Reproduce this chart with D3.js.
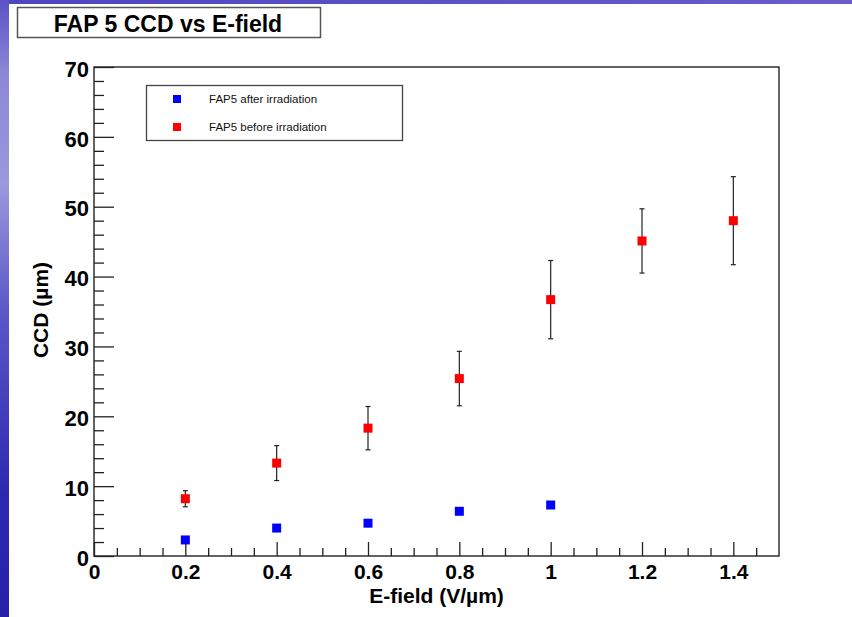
<!DOCTYPE html>
<html>
<head>
<meta charset="utf-8">
<script src="https://cdn.jsdelivr.net/npm/d3@7"></script>
<style>
  html, body { margin: 0; padding: 0; background: #fff; }
  svg { display: block; font-family: "Liberation Sans", Arial, Helvetica, sans-serif; }
</style>
</head>
<body>
<svg id="chart" width="852" height="617"></svg>
<script>
// E-field values (V/µm)
const fieldAfter  = [0.2, 0.4, 0.6, 0.8, 1.0];
const fieldBefore = [0.2, 0.4, 0.6, 0.8, 1.0, 1.2, 1.4];
// Charge collection distance (µm)
const ccdAfter  = [2.3, 4.0, 4.7, 6.4, 7.3];
const ccdBefore = [8.2, 13.3, 18.3, 25.4, 36.7, 45.1, 48.0];
const ccdBeforeErr = [1.15, 2.5, 3.1, 3.9, 5.6, 4.6, 6.3];

const xTicks = [0, 0.2, 0.4, 0.6, 0.8, 1, 1.2, 1.4];
const yTicks = [0, 10, 20, 30, 40, 50, 60, 70];
const seriesNames = ["FAP5 after irradiation", "FAP5 before irradiation"];
const seriesColors = ["#0000ff", "#ff0000"];

const svg = d3.select("#chart");
const W = 852, H = 617;
const frame = { left: 94, right: 779, top: 67, bottom: 556 };

// slide background: blue bars along the top and left edges
const defs = svg.append("defs");
const grad = defs.append("linearGradient").attr("id", "sideGrad")
  .attr("x1", 0).attr("y1", 0).attr("x2", 0).attr("y2", 1);
[[0, "#5a52c6"], [0.12, "#8c88d8"], [0.3, "#9a98de"], [0.5, "#5c58c8"], [0.8, "#2e28b0"], [1, "#2820a8"]]
  .forEach(([o, c]) => grad.append("stop").attr("offset", o).attr("stop-color", c));
const gradTop = defs.append("linearGradient").attr("id", "topGrad")
  .attr("x1", 0).attr("y1", 0).attr("x2", 1).attr("y2", 0);
[[0, "#4c46c0"], [1, "#6a5ccd"]]
  .forEach(([o, c]) => gradTop.append("stop").attr("offset", o).attr("stop-color", c));
svg.append("rect").attr("x", 0).attr("y", 0).attr("width", W).attr("height", 4).attr("fill", "url(#topGrad)");
svg.append("rect").attr("x", 0).attr("y", 0).attr("width", 9).attr("height", H).attr("fill", "url(#sideGrad)");

// scales
const x = d3.scaleLinear().domain([0, 1.5]).range([frame.left, frame.right]);
const y = d3.scaleLinear().domain([0, 70]).range([frame.bottom, frame.top]);

// title box
svg.append("rect").attr("x", 17.5).attr("y", 7.5).attr("width", 303).attr("height", 30)
  .attr("fill", "#fff").attr("stroke", "#555").attr("stroke-width", 1.5);
svg.append("text").attr("x", 168).attr("y", 32).attr("text-anchor", "middle")
  .attr("font-size", 23).attr("font-weight", "bold").attr("fill", "#000")
  .text("FAP 5 CCD vs E-field");

// frame
svg.append("rect").attr("x", frame.left).attr("y", frame.top)
  .attr("width", frame.right - frame.left).attr("height", frame.bottom - frame.top)
  .attr("fill", "none").attr("stroke", "#111").attr("stroke-width", 1.3);

// y axis: major ticks with labels, minor ticks without
const yMajor = svg.append("g").attr("transform", `translate(${frame.left},0)`)
  .call(d3.axisLeft(y).tickValues(yTicks).tickSize(-20).tickPadding(5).tickFormat(d3.format("d")));
const yMinor = svg.append("g").attr("transform", `translate(${frame.left},0)`)
  .call(d3.axisLeft(y).tickValues(d3.range(0, 71, 2).filter(v => v % 10 !== 0)).tickSize(-10).tickFormat(""));
[yMajor, yMinor].forEach(g => {
  g.select(".domain").remove();
  g.selectAll("line").attr("stroke", "#222").attr("stroke-width", 1.3);
});
yMajor.selectAll("text").attr("font-size", 22).attr("font-weight", "bold")
  .attr("font-family", "Liberation Sans, Arial, sans-serif").attr("fill", "#000").attr("dy", "0.42em");

// x axis
const xMajor = svg.append("g").attr("transform", `translate(0,${frame.bottom})`)
  .call(d3.axisBottom(x).tickValues(xTicks).tickSize(-14).tickPadding(8).tickFormat(d => d3.format("")(d)));
const xMinor = svg.append("g").attr("transform", `translate(0,${frame.bottom})`)
  .call(d3.axisBottom(x).tickValues(d3.range(1, 30).map(i => i * 0.05).filter((v, i) => (i + 1) % 4 !== 0)).tickSize(-8).tickFormat(""));
[xMajor, xMinor].forEach(g => {
  g.select(".domain").remove();
  g.selectAll("line").attr("stroke", "#222").attr("stroke-width", 1.3);
});
xMajor.selectAll("text").attr("font-size", 21).attr("font-weight", "bold")
  .attr("font-family", "Liberation Sans, Arial, sans-serif").attr("fill", "#000");

// axis titles
svg.append("text").attr("x", (frame.left + frame.right) / 2).attr("y", 603)
  .attr("text-anchor", "middle").attr("font-size", 21).attr("font-weight", "bold")
  .text("E-field (V/µm)");
svg.append("text").attr("transform", "translate(48,310) rotate(-90)")
  .attr("text-anchor", "middle").attr("font-size", 21).attr("font-weight", "bold")
  .text("CCD (µm)");

// error bars for the pre-irradiation series
const eb = svg.append("g").attr("stroke", "#222").attr("stroke-width", 1.2);
fieldBefore.forEach((f, i) => {
  const cx = x(f), lo = y(ccdBefore[i] - ccdBeforeErr[i]), hi = y(ccdBefore[i] + ccdBeforeErr[i]);
  eb.append("line").attr("x1", cx).attr("x2", cx).attr("y1", lo).attr("y2", hi);
  eb.append("line").attr("x1", cx - 2.5).attr("x2", cx + 2.5).attr("y1", lo).attr("y2", lo);
  eb.append("line").attr("x1", cx - 2.5).attr("x2", cx + 2.5).attr("y1", hi).attr("y2", hi);
});

// markers
const ms = 9;
svg.append("g").selectAll("rect").data(fieldAfter.map((f, i) => [f, ccdAfter[i]])).join("rect")
  .attr("x", d => x(d[0]) - ms / 2).attr("y", d => y(d[1]) - ms / 2)
  .attr("width", ms).attr("height", ms).attr("fill", seriesColors[0]);
svg.append("g").selectAll("rect").data(fieldBefore.map((f, i) => [f, ccdBefore[i]])).join("rect")
  .attr("x", d => x(d[0]) - ms / 2).attr("y", d => y(d[1]) - ms / 2)
  .attr("width", ms).attr("height", ms).attr("fill", seriesColors[1]);

// legend
const lg = svg.append("g");
lg.append("rect").attr("x", 146.5).attr("y", 85.5).attr("width", 256).attr("height", 55)
  .attr("fill", "#fff").attr("stroke", "#444").attr("stroke-width", 1.3);
seriesNames.forEach((name, i) => {
  const ly = 99 + i * 28;
  lg.append("rect").attr("x", 177 - 4).attr("y", ly - 4).attr("width", 8).attr("height", 8)
    .attr("fill", seriesColors[i]);
  lg.append("text").attr("x", 209).attr("y", ly).attr("dy", "0.36em")
    .attr("font-size", 11.5).attr("fill", "#111").text(name);
});
</script>
</body>
</html>
